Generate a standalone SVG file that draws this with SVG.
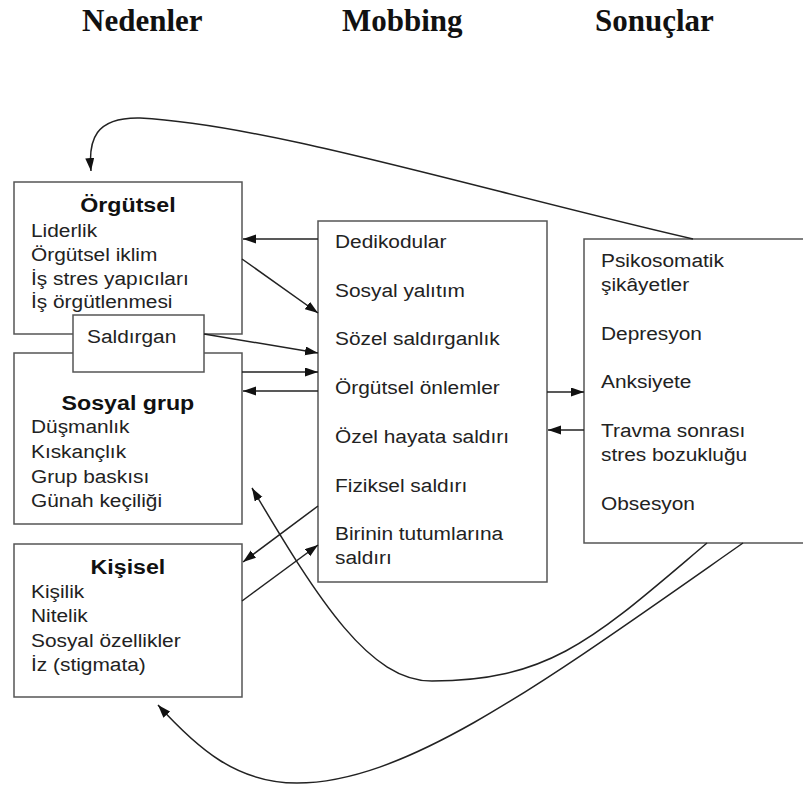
<svg xmlns="http://www.w3.org/2000/svg" width="803" height="788" viewBox="0 0 803 788">
<style>
.head{font-family:"Liberation Serif","Times New Roman",serif;font-weight:bold;font-size:31px;fill:#111}
.t{font-family:"Liberation Sans",Arial,Helvetica,sans-serif;font-size:18px;fill:#222}
.b{font-family:"Liberation Sans",Arial,Helvetica,sans-serif;font-size:20px;font-weight:bold;fill:#111;text-anchor:middle}
.box{fill:#fff;stroke:#555;stroke-width:1.5}
.c{fill:none;stroke:#222;stroke-width:1.5;marker-end:url(#ah)}
</style>
<defs>
<marker id="ah" markerUnits="userSpaceOnUse" markerWidth="14" markerHeight="10" refX="13" refY="4.5" orient="auto">
<path d="M0,0 L13,4.5 L0,9 z" fill="#111"/>
</marker>
</defs>
<rect width="803" height="788" fill="#fff"/>
<g id="titles">
<text class="head" x="82" y="31">Nedenler</text>
<text class="head" x="342" y="31">Mobbing</text>
<text class="head" x="595" y="31">Sonuçlar</text>
</g>
<g id="orgutsel">
<rect class="box" x="14" y="182" width="228" height="152"/>
<g transform="scale(1.16,1)">
<text class="b" x="110.3" y="212">Örgütsel</text>
<text class="t" x="26.7" y="237">Liderlik</text>
<text class="t" x="26.7" y="261">Örgütsel iklim</text>
<text class="t" x="26.7" y="285">İş stres yapıcıları</text>
<text class="t" x="26.7" y="308">İş örgütlenmesi</text>
</g>
</g>
<g id="sosyal-grup">
<rect class="box" x="14" y="353" width="228" height="171"/>
<g transform="scale(1.16,1)">
<text class="b" x="110.3" y="410">Sosyal grup</text>
<text class="t" x="26.7" y="433">Düşmanlık</text>
<text class="t" x="26.7" y="458">Kıskançlık</text>
<text class="t" x="26.7" y="483">Grup baskısı</text>
<text class="t" x="26.7" y="507">Günah keçiliği</text>
</g>
</g>
<g id="saldirgan">
<rect class="box" x="73" y="315" width="131" height="57"/>
<g transform="scale(1.16,1)">
<text class="t" x="75" y="343">Saldırgan</text>
</g>
</g>
<g id="kisisel">
<rect class="box" x="14" y="544" width="228" height="153"/>
<g transform="scale(1.16,1)">
<text class="b" x="110.3" y="574">Kişisel</text>
<text class="t" x="26.7" y="598">Kişilik</text>
<text class="t" x="26.7" y="622">Nitelik</text>
<text class="t" x="26.7" y="647">Sosyal özellikler</text>
<text class="t" x="26.7" y="671">İz (stigmata)</text>
</g>
</g>
<g id="mobbing">
<rect class="box" x="318" y="221" width="229" height="361"/>
<g transform="scale(1.16,1)">
<text class="t" x="288.8" y="248">Dedikodular</text>
<text class="t" x="288.8" y="297">Sosyal yalıtım</text>
<text class="t" x="288.8" y="345">Sözel saldırganlık</text>
<text class="t" x="288.8" y="394">Örgütsel önlemler</text>
<text class="t" x="288.8" y="443">Özel hayata saldırı</text>
<text class="t" x="288.8" y="492">Fiziksel saldırı</text>
<text class="t" x="288.8" y="540">Birinin tutumlarına</text>
<text class="t" x="288.8" y="564">saldırı</text>
</g>
</g>
<g id="sonuclar">
<rect class="box" x="584" y="239" width="240" height="304"/>
<g transform="scale(1.16,1)">
<text class="t" x="518.1" y="267">Psikosomatik</text>
<text class="t" x="518.1" y="291">şikâyetler</text>
<text class="t" x="518.1" y="340">Depresyon</text>
<text class="t" x="518.1" y="388">Anksiyete</text>
<text class="t" x="518.1" y="437">Travma sonrası</text>
<text class="t" x="518.1" y="461">stres bozukluğu</text>
<text class="t" x="518.1" y="510">Obsesyon</text>
</g>
</g>
<g id="connectors">
<path class="c" d="M318,239 L243,239"/>
<path class="c" d="M242,259 L318,313"/>
<path class="c" d="M204,334 L318,353"/>
<path class="c" d="M242,372 L318,372"/>
<path class="c" d="M318,391 L243,391"/>
<path class="c" d="M547,392 L584,392"/>
<path class="c" d="M584,430 L548,430"/>
<path class="c" d="M318,506 L243,562"/>
<path class="c" d="M242,601 L318,545"/>
<path class="c" d="M693,239 C480,190 270,125 140,118 C95,117 88,140 91,171"/>
<path class="c" d="M707,543 C597,636 552,681 432,681 C370,681 320,603 252,488"/>
<path class="c" d="M743,543 C543,683 407,783 297,783 C237,783 198,749 158,705"/>
</g>
</svg>
